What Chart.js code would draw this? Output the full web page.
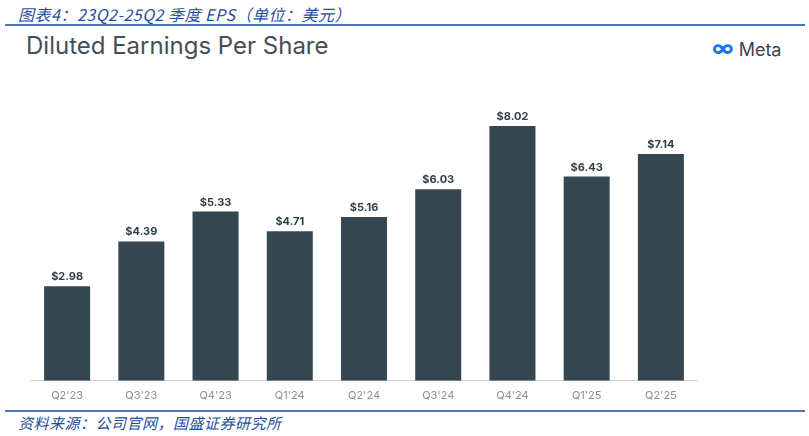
<!DOCTYPE html>
<html><head><meta charset="utf-8">
<script src="https://cdn.jsdelivr.net/npm/chart.js@4"></script>
<style>
body{margin:0;width:809px;height:436px;background:#fff;position:relative;overflow:hidden;font-family:"Noto Sans CJK SC",sans-serif}
.cap{position:absolute;left:18px;top:2px;color:#1f4e9c;font-size:16px;font-style:italic;letter-spacing:0.5px}
.hl{position:absolute;left:5px;width:800px;height:2px;background:#4a78b8}
.sub{position:absolute;left:26px;top:31px;font-family:Inter,"Noto Sans",sans-serif;font-size:24px;color:#444e56}
.logo{position:absolute;left:712px;top:35px;font-family:Inter,sans-serif;font-size:18px;color:#3a4550}
.logo span{color:#1877f2;font-size:22px;font-weight:bold}
#wrap{position:absolute;left:30px;top:95px;width:668px;height:315px}
.src{position:absolute;left:18px;top:412px;color:#1f4e9c;font-size:15px;font-style:italic;letter-spacing:0.5px}
</style></head><body>
<div class="cap">图表4：23Q2-25Q2 季度 EPS（单位：美元）</div>
<div class="hl" style="top:24px"></div>
<div class="sub">Diluted Earnings Per Share</div>
<div class="logo"><span>∞</span> Meta</div>
<div id="wrap"><canvas id="c"></canvas></div>
<div class="hl" style="top:410px;height:1.5px"></div>
<div class="src">资料来源：公司官网，国盛证券研究所</div>
<script>
var quarters = ["Q2'23","Q3'23","Q4'23","Q1'24","Q2'24","Q3'24","Q4'24","Q1'25","Q2'25"];
var eps = [2.98, 4.39, 5.33, 4.71, 5.16, 6.03, 8.02, 6.43, 7.14];

var labelPlugin = {
  id: 'labels',
  afterDatasetsDraw: function(chart) {
    var ctx = chart.ctx;
    ctx.save();
    ctx.font = 'bold 11px Inter, sans-serif';
    ctx.fillStyle = '#2f3d45';
    ctx.textAlign = 'center';
    chart.getDatasetMeta(0).data.forEach(function(bar, i) {
      ctx.fillText('$' + eps[i].toFixed(2), bar.x, bar.y - 6);
    });
    ctx.restore();
  }
};

new Chart(document.getElementById('c'), {
  type: 'bar',
  data: { labels: quarters, datasets: [{ data: eps, backgroundColor: '#354751', categoryPercentage: 0.62, barPercentage: 1 }] },
  options: {
    responsive: true, maintainAspectRatio: false, animation: false,
    layout: { padding: 0 },
    plugins: { legend: { display: false }, tooltip: { enabled: false } },
    scales: {
      x: { grid: { display: false, drawTicks: false }, border: { color: '#cfd3d6' },
           ticks: { color: '#8a9197', padding: 8, font: { family: 'Inter, sans-serif', size: 11 } } },
      y: { display: false, min: 0, max: 9 }
    }
  },
  plugins: [labelPlugin]
});
</script>
</body></html>
